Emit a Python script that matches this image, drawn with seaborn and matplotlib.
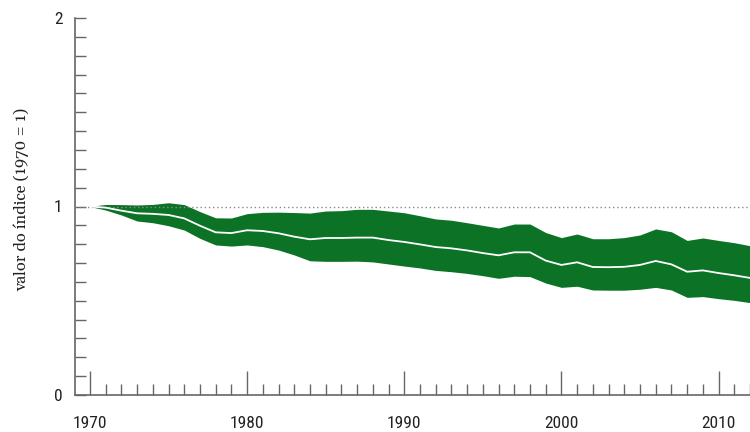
import matplotlib
matplotlib.use("Agg")
import matplotlib.pyplot as plt
import seaborn as sns
import numpy as np
import pandas as pd
from matplotlib.ticker import MultipleLocator, FixedLocator

years = list(range(1970, 2013))
upper = [1.000, 1.011, 1.010, 1.008, 1.011, 1.020, 1.010, 0.973, 0.940, 0.939,
         0.962, 0.969, 0.970, 0.968, 0.965, 0.976, 0.978, 0.985, 0.985, 0.976,
         0.967, 0.951, 0.934, 0.927, 0.914, 0.900, 0.886, 0.907, 0.907, 0.862,
         0.835, 0.854, 0.829, 0.829, 0.835, 0.849, 0.881, 0.866, 0.820, 0.833,
         0.820, 0.808, 0.792]
center = [1.000, 0.994, 0.978, 0.964, 0.961, 0.955, 0.937, 0.898, 0.863, 0.859,
          0.874, 0.870, 0.858, 0.840, 0.826, 0.833, 0.833, 0.835, 0.835, 0.822,
          0.812, 0.799, 0.785, 0.778, 0.767, 0.753, 0.741, 0.757, 0.757, 0.713,
          0.690, 0.704, 0.679, 0.678, 0.680, 0.690, 0.711, 0.693, 0.654, 0.661,
          0.647, 0.635, 0.621]
lower = [1.000, 0.981, 0.955, 0.923, 0.914, 0.898, 0.875, 0.831, 0.796, 0.790,
         0.796, 0.787, 0.769, 0.743, 0.712, 0.709, 0.709, 0.710, 0.706, 0.695,
         0.684, 0.674, 0.661, 0.654, 0.645, 0.633, 0.619, 0.630, 0.628, 0.594,
         0.571, 0.577, 0.557, 0.556, 0.556, 0.561, 0.571, 0.557, 0.518, 0.522,
         0.511, 0.502, 0.490]
y_ticks = [0, 1, 2]
x_ticks = [1970, 1980, 1990, 2000, 2010]
y_label = "valor do índice (1970 = 1)"

df = pd.DataFrame({"ano": years, "indice": center, "sup": upper, "inf": lower})

sns.set_theme(style="ticks")
plt.rcParams["font.family"] = ["Roboto Condensed", "Archivo Narrow", "DejaVu Sans"]

fig = plt.figure(figsize=(7.5, 4.32), dpi=100)
ax = fig.add_axes([0.1, 1 - 395 / 432, 0.9, (395 - 18) / 432])

green = "#0c7326"
ax.fill_between(df["ano"], df["inf"], df["sup"], color=green, lw=0, zorder=1)
ax.axhline(1, color="#8a8a8a", lw=1.0, linestyle=(0, (1, 2)), zorder=2)
sns.lineplot(data=df, x="ano", y="indice", color="white", lw=1.3, ax=ax, zorder=3)

ax.set_xlim(1969.05, 2012)
ax.set_ylim(0, 2)

spine_col = "#666666"
for s in ["top", "right"]:
    ax.spines[s].set_visible(False)
for s in ["left", "bottom"]:
    ax.spines[s].set_color(spine_col)
    ax.spines[s].set_linewidth(1.2)

ax.xaxis.set_major_locator(FixedLocator(x_ticks))
ax.xaxis.set_minor_locator(MultipleLocator(1))
ax.yaxis.set_major_locator(FixedLocator(y_ticks))
ax.yaxis.set_minor_locator(MultipleLocator(0.1))
ax.set_xticklabels([str(t) for t in x_ticks])
ax.set_yticklabels([str(t) for t in y_ticks])

ax.tick_params(axis="both", which="both", bottom=True, left=True, top=False, right=False)
ax.tick_params(axis="x", which="major", direction="in", length=17, width=1.0,
               color=spine_col, pad=15, labelsize=12.5, labelcolor="#222222")
ax.tick_params(axis="x", which="minor", direction="in", length=8, width=1.0,
               color=spine_col)
ax.tick_params(axis="y", which="major", direction="in", length=8, width=1.0,
               color=spine_col, pad=9, labelsize=12.5, labelcolor="#222222")
ax.tick_params(axis="y", which="minor", direction="in", length=8, width=1.0,
               color=spine_col)

ax.set_xlabel("")
ax.set_ylabel(y_label, family=["Gelasio", "EB Garamond", "Liberation Serif", "DejaVu Serif"],
              fontsize=11.8, color="#222222")
ax.yaxis.set_label_coords(-0.068, 0.52)

fig.savefig("out.png", dpi=100)
